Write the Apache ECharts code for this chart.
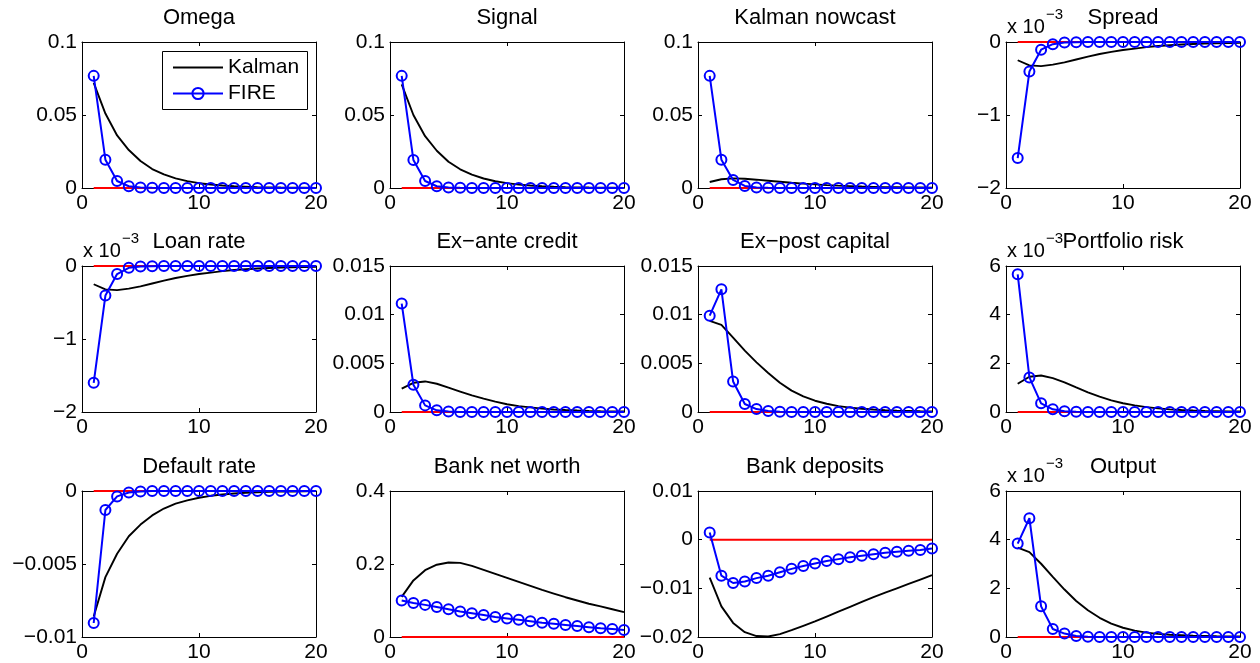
<!DOCTYPE html>
<html>
<head>
<meta charset="utf-8">
<title>Impulse responses: Kalman vs FIRE</title>
<script src="https://cdn.jsdelivr.net/npm/echarts@6/dist/echarts.min.js"></script>
<style>
  html, body { margin: 0; padding: 0; background: #fff; }
  #chart { width: 1260px; height: 663px; }
</style>
</head>
<body>
<div id="chart"></div>
<script>
// Horizon (quarters after the shock)
const periods = [1, 2, 3, 4, 5, 6, 7, 8, 9, 10, 11, 12, 13, 14, 15, 16, 17, 18, 19, 20];
// Zero reference line
const zeroLine = [0, 0, 0, 0, 0, 0, 0, 0, 0, 0, 0, 0, 0, 0, 0, 0, 0, 0, 0, 0];

// Omega
const omegaKalman = [0.072, 0.051, 0.036, 0.026, 0.0185, 0.013, 0.0093, 0.0066, 0.0047, 0.0033, 0.0024, 0.0017, 0.0012, 0.0009, 0.0006, 0.00045, 0.0003, 0.0002, 0.00015, 0.0001];
const omegaFire   = [0.0768, 0.0194, 0.0048, 0.0012, 0.0003, 0.0001, 0, 0, 0, 0, 0, 0, 0, 0, 0, 0, 0, 0, 0, 0];
// Signal
const signalKalman = [0.071, 0.050, 0.0355, 0.0255, 0.018, 0.0128, 0.0091, 0.0065, 0.0046, 0.0033, 0.0023, 0.0017, 0.0012, 0.00085, 0.0006, 0.00043, 0.0003, 0.00022, 0.00016, 0.00011];
const signalFire   = [0.0768, 0.0192, 0.0048, 0.0012, 0.0003, 0.0001, 0, 0, 0, 0, 0, 0, 0, 0, 0, 0, 0, 0, 0, 0];
// Kalman nowcast
const nowcastKalman = [0.0041, 0.006, 0.0066, 0.0063, 0.0057, 0.005, 0.0043, 0.0036, 0.003, 0.0025, 0.002, 0.0016, 0.0013, 0.001, 0.0008, 0.0006, 0.0005, 0.0004, 0.0003, 0.0002];
const nowcastFire   = [0.0768, 0.0194, 0.0055, 0.0014, 0.0003, 0.0001, 0, 0, 0, 0, 0, 0, 0, 0, 0, 0, 0, 0, 0, 0];
// Spread (x 10^-3)
const spreadKalman = [-0.25, -0.32, -0.33, -0.31, -0.28, -0.24, -0.2, -0.165, -0.135, -0.11, -0.09, -0.07, -0.055, -0.045, -0.035, -0.028, -0.022, -0.018, -0.014, -0.011];
const spreadFire   = [-1.59, -0.405, -0.105, -0.03, -0.008, -0.002, 0, 0, 0, 0, 0, 0, 0, 0, 0, 0, 0, 0, 0, 0];
// Loan rate (x 10^-3)
const loanKalman = [-0.25, -0.32, -0.33, -0.31, -0.28, -0.24, -0.2, -0.165, -0.135, -0.11, -0.09, -0.07, -0.055, -0.045, -0.035, -0.028, -0.022, -0.018, -0.014, -0.011];
const loanFire   = [-1.60, -0.405, -0.11, -0.025, -0.007, -0.002, 0, 0, 0, 0, 0, 0, 0, 0, 0, 0, 0, 0, 0, 0];
// Ex-ante credit
const exanteKalman = [0.0024, 0.003, 0.00314, 0.0029, 0.0025, 0.0021, 0.0017, 0.00137, 0.00106, 0.0008, 0.0006, 0.00048, 0.00035, 0.00026, 0.0002, 0.00015, 0.00011, 0.00008, 0.00006, 0.00005];
const exanteFire   = [0.01114, 0.0028, 0.00068, 0.00017, 0.00004, 0.00001, 0, 0, 0, 0, 0, 0, 0, 0, 0, 0, 0, 0, 0, 0];
// Ex-post capital
const expostKalman = [0.00936, 0.00895, 0.00765, 0.0063, 0.0051, 0.004, 0.003, 0.0022, 0.0016, 0.00116, 0.00085, 0.0006, 0.00045, 0.00033, 0.00025, 0.00018, 0.00013, 0.0001, 0.00007, 0.00005];
const expostFire   = [0.0099, 0.0126, 0.00314, 0.00082, 0.0003, 0.0001, 0.00003, 0, 0, 0, 0, 0, 0, 0, 0, 0, 0, 0, 0, 0];
// Portfolio risk (x 10^-3)
const riskKalman = [1.16, 1.45, 1.5, 1.39, 1.22, 1.01, 0.81, 0.63, 0.48, 0.36, 0.27, 0.2, 0.15, 0.11, 0.08, 0.06, 0.045, 0.035, 0.025, 0.02];
const riskFire   = [5.66, 1.42, 0.355, 0.11, 0.03, 0.008, 0, 0, 0, 0, 0, 0, 0, 0, 0, 0, 0, 0, 0, 0];
// Default rate
const defaultKalman = [-0.0086, -0.0059, -0.0043, -0.0031, -0.0023, -0.00167, -0.0012, -0.00087, -0.00064, -0.00046, -0.00033, -0.00024, -0.00017, -0.00012, -0.00009, -0.00006, -0.00004, -0.00003, -0.00002, -0.00001];
const defaultFire   = [-0.00904, -0.0013, -0.00037, -0.0001, -0.00003, 0, 0, 0, 0, 0, 0, 0, 0, 0, 0, 0, 0, 0, 0, 0];
// Bank net worth
const networthKalman = [0.11, 0.155, 0.183, 0.198, 0.204, 0.203, 0.195, 0.184, 0.173, 0.162, 0.151, 0.14, 0.129, 0.119, 0.109, 0.1, 0.091, 0.084, 0.076, 0.068];
const networthFire   = [0.1, 0.093, 0.088, 0.082, 0.076, 0.07, 0.065, 0.06, 0.055, 0.051, 0.047, 0.043, 0.039, 0.036, 0.033, 0.03, 0.027, 0.024, 0.022, 0.019];
// Bank deposits
const depositsKalman = [-0.0078, -0.0137, -0.0171, -0.019, -0.0198, -0.0199, -0.0194, -0.0186, -0.0177, -0.0168, -0.0158, -0.0148, -0.0138, -0.0128, -0.0118, -0.0109, -0.01, -0.0091, -0.0082, -0.0073];
const depositsFire   = [0.00145, -0.0074, -0.0089, -0.0086, -0.0079, -0.0074, -0.0067, -0.006, -0.0054, -0.0049, -0.0044, -0.004, -0.0036, -0.0033, -0.003, -0.0027, -0.0025, -0.0023, -0.0021, -0.0018];
// Output (x 10^-3)
const outputKalman = [3.67, 3.49, 3.01, 2.47, 1.95, 1.48, 1.1, 0.79, 0.55, 0.38, 0.26, 0.18, 0.13, 0.09, 0.07, 0.05, 0.04, 0.03, 0.025, 0.02];
const outputFire   = [3.84, 4.88, 1.26, 0.33, 0.14, 0.04, 0.01, 0, 0, 0, 0, 0, 0, 0, 0, 0, 0, 0, 0, 0];

// x-axis ticks shared by every panel
const xTicks = { min: 0, max: 20, step: 10 };

const panels = [
  { title: 'Omega',            kalman: omegaKalman,    fire: omegaFire,    min: 0,     max: 0.1,   step: 0.05 },
  { title: 'Signal',           kalman: signalKalman,   fire: signalFire,   min: 0,     max: 0.1,   step: 0.05 },
  { title: 'Kalman nowcast',   kalman: nowcastKalman,  fire: nowcastFire,  min: 0,     max: 0.1,   step: 0.05 },
  { title: 'Spread',           kalman: spreadKalman,   fire: spreadFire,   min: -2,    max: 0,     step: 1, exp: true },
  { title: 'Loan rate',        kalman: loanKalman,     fire: loanFire,     min: -2,    max: 0,     step: 1, exp: true },
  { title: 'Ex\u2212ante credit',  kalman: exanteKalman,   fire: exanteFire,   min: 0,     max: 0.015, step: 0.005 },
  { title: 'Ex\u2212post capital', kalman: expostKalman,   fire: expostFire,   min: 0,     max: 0.015, step: 0.005 },
  { title: 'Portfolio risk',   kalman: riskKalman,     fire: riskFire,     min: 0,     max: 6,     step: 2, exp: true },
  { title: 'Default rate',     kalman: defaultKalman,  fire: defaultFire,  min: -0.01, max: 0,     step: 0.005 },
  { title: 'Bank net worth',   kalman: networthKalman, fire: networthFire, min: 0,     max: 0.4,   step: 0.2 },
  { title: 'Bank deposits',    kalman: depositsKalman, fire: depositsFire, min: -0.02, max: 0.01,  step: 0.01 },
  { title: 'Output',           kalman: outputKalman,   fire: outputFire,   min: 0,     max: 6,     step: 2, exp: true }
];

const FONT = "'Liberation Sans', Arial, Helvetica, sans-serif";
const TICK_SIZE = 21;
const TITLE_SIZE = 22;
const colLeft = [82, 390, 698, 1006];
const rowTop = [42, 266, 491];
const W = 234, H = 146;

function fmt(v) {
  let s = String(Number(v.toFixed(6)));
  if (s === '-0') s = '0';
  return s.replace('-', '\u2212');
}
const pairs = ys => periods.map((x, k) => [x, ys[k]]);

const grid = [], xAxis = [], yAxis = [], series = [], graphic = [];
const axisLineStyle = { color: '#000', width: 1 };

panels.forEach((p, i) => {
  const left = colLeft[i % 4];
  const top = rowTop[Math.floor(i / 4)];
  grid.push({ left: left, top: top, width: W, height: H, show: false });

  const xBase = {
    type: 'value', gridIndex: i, min: xTicks.min, max: xTicks.max, interval: xTicks.step,
    axisLine: { show: true, onZero: false, lineStyle: axisLineStyle },
    axisTick: { show: true, inside: true, length: 4, lineStyle: axisLineStyle },
    splitLine: { show: false }
  };
  xAxis.push(Object.assign({}, xBase, {
    position: 'bottom',
    axisLabel: { show: true, color: '#000', fontSize: TICK_SIZE, fontFamily: FONT, margin: 5, formatter: fmt }
  }));
  xAxis.push(Object.assign({}, xBase, { position: 'top', axisLabel: { show: false } }));

  const yBase = {
    type: 'value', gridIndex: i, min: p.min, max: p.max, interval: p.step,
    axisLine: { show: true, onZero: false, lineStyle: axisLineStyle },
    axisTick: { show: true, inside: true, length: 4, lineStyle: axisLineStyle },
    splitLine: { show: false }
  };
  yAxis.push(Object.assign({}, yBase, {
    position: 'left',
    axisLabel: { show: true, color: '#000', fontSize: TICK_SIZE, fontFamily: FONT, margin: 5, formatter: fmt }
  }));
  yAxis.push(Object.assign({}, yBase, { position: 'right', axisLabel: { show: false } }));

  const axisRef = { xAxisIndex: 2 * i, yAxisIndex: 2 * i };
  series.push(Object.assign({
    name: 'zero', type: 'line', data: pairs(zeroLine), symbol: 'none', silent: true, clip: false, z: 1,
    lineStyle: { color: '#ff0000', width: 2 }
  }, axisRef));
  series.push(Object.assign({
    name: 'Kalman', type: 'line', data: pairs(p.kalman), symbol: 'none', showSymbol: false, silent: true, clip: false, z: 2,
    lineStyle: { color: '#000', width: 1.9 }, itemStyle: { color: '#000' }
  }, axisRef));
  series.push(Object.assign({
    name: 'FIRE', type: 'line', data: pairs(p.fire), symbol: 'circle', symbolSize: 10, silent: true, clip: false, z: 3,
    lineStyle: { color: '#0000ff', width: 2 },
    itemStyle: { color: 'rgba(255,255,255,0)', borderColor: '#0000ff', borderWidth: 2 }
  }, axisRef));

  // panel title
  graphic.push({
    type: 'text', x: left + W / 2, y: top - 24.5, z: 10,
    style: { text: p.title, fill: '#000', font: TITLE_SIZE + 'px ' + FONT, textAlign: 'center', textVerticalAlign: 'middle' }
  });
  // scale factor label above the y axis
  if (p.exp) {
    graphic.push({
      type: 'text', x: left + 1, y: top - 15, z: 10,
      style: { text: 'x 10', fill: '#000', font: '20px ' + FONT, textAlign: 'left', textVerticalAlign: 'middle' }
    });
    graphic.push({
      type: 'text', x: left + 40, y: top - 27.5, z: 10,
      style: { text: '\u22123', fill: '#000', font: '15px ' + FONT, textAlign: 'left', textVerticalAlign: 'middle' }
    });
  }
});

// legend frame in the first panel
graphic.push({
  type: 'rect', z: 100,
  shape: { x: 162.5, y: 51.5, width: 145, height: 58 },
  style: { fill: '#fff', stroke: '#000', lineWidth: 1 }
});

const chart = echarts.init(document.getElementById('chart'), null, { renderer: 'canvas' });
chart.setOption({
  animation: false,
  backgroundColor: '#fff',
  grid: grid,
  xAxis: xAxis,
  yAxis: yAxis,
  series: series,
  graphic: graphic,
  legend: {
    data: [
      { name: 'Kalman', itemStyle: { opacity: 0 } },
      { name: 'FIRE' }
    ],
    z: 200,
    orient: 'vertical',
    left: 162, top: 51,
    padding: [6, 5, 5, 10],
    itemGap: 5,
    itemWidth: 50, itemHeight: 14,
    selectedMode: false,
    textStyle: { color: '#000', fontSize: 21, fontFamily: FONT }
  }
});
</script>
</body>
</html>
